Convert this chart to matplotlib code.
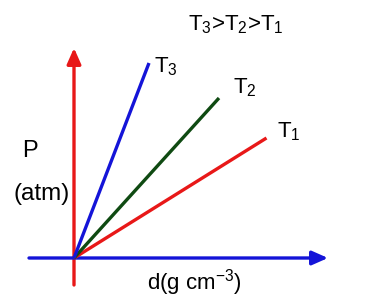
import matplotlib
matplotlib.use("Agg")
import matplotlib.pyplot as plt

# ---- data (arbitrary units) ----
series = ["T1", "T2", "T3"]
d_end = [7.7, 5.8, 3.0]      # density at end of each line
p_end = [4.8, 6.4, 7.8]      # pressure at end of each line
line_colors = ["#e81818", "#0f4a12", "#1414d8"]
labels = ["T$_1$", "T$_2$", "T$_3$"]
title = "T$_3$>T$_2$>T$_1$"
xlabel = "d(g cm$^{-3}$)"
ylabel1 = "P"
ylabel2 = "(atm)"

plt.rcParams["font.family"] = ["Liberation Sans", "DejaVu Sans"]
plt.rcParams["mathtext.fontset"] = "custom"
plt.rcParams["mathtext.rm"] = "Liberation Sans"
plt.rcParams["mathtext.it"] = "Liberation Sans:italic"
plt.rcParams["mathtext.bf"] = "Liberation Sans:bold"

W, H = 367, 301
fig = plt.figure(figsize=(W / 100, H / 100), dpi=100)
ax = fig.add_axes([0, 0, 1, 1])
ax.set_axis_off()

# pixel mapping: origin at (74, 258) px, 25 px per unit
OX, OY, S = 74, 258, 25.0
ax.set_xlim(-OX / S, (W - OX) / S)
ax.set_ylim(-(H - OY) / S, OY / S)

def px(x, y):
    return (x - OX) / S, (OY - y) / S

RED = "#e81818"
BLUE = "#1414d8"
LW = 2.4

# axes arrows
ax.annotate("", xy=px(74, 48), xytext=px(74, 285),
            arrowprops=dict(arrowstyle="-|>,head_length=0.95,head_width=0.42",
                            color=RED, lw=LW, mutation_scale=10,
                            shrinkA=0, shrinkB=0), zorder=2)
ax.annotate("", xy=px(328, 258), xytext=px(29, 258),
            arrowprops=dict(arrowstyle="-|>,head_length=0.95,head_width=0.42",
                            color=BLUE, lw=LW, mutation_scale=10,
                            shrinkA=0, shrinkB=0), zorder=2)

# isotherm lines
for d, p, c in zip(d_end, p_end, line_colors):
    ax.plot([0, d], [0, p], color=c, lw=LW, solid_capstyle="butt", zorder=3)

FS = 16
lab_pos = [px(277, 137), px(233, 93), px(154, 72)]
for (x, y), lab in zip(lab_pos, labels):
    ax.text(x, y, lab, fontsize=FS, ha="left", va="baseline")

ax.text(*px(188, 30), title, fontsize=FS, ha="left", va="baseline")
ax.text(*px(22, 157), ylabel1, fontsize=17, ha="left", va="baseline")
ax.text(*px(14, 200), ylabel2, fontsize=17.5, ha="left", va="baseline")
ax.text(*px(147, 290), xlabel, fontsize=FS, ha="left", va="baseline")

fig.savefig("out.png", dpi=100)
